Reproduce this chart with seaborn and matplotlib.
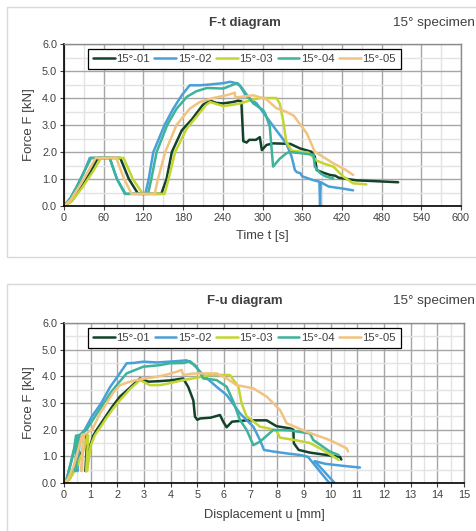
import matplotlib
matplotlib.use("Agg")
import matplotlib.pyplot as plt
from matplotlib.patches import Rectangle
from matplotlib.ticker import MultipleLocator
import seaborn as sns

sns.set_style("white")
plt.rcParams['font.family'] = ['Liberation Sans', 'DejaVu Sans']

labels = ["15°-01", "15°-02", "15°-03", "15°-04", "15°-05"]
colors = ["#12432A", "#4A9FD8", "#C3D530", "#3CB39B", "#F2C27F"]

# ---------------- F-t data ----------------
t01 = [0, 12, 25, 40, 51, 85, 98, 112, 147, 155, 163, 178, 193, 210, 221, 230, 240, 255, 263, 268, 271, 276, 280, 290, 296, 299, 306, 316, 342, 357, 374, 379, 382, 390, 402, 410, 415, 422, 442, 470, 505]
F01 = [0, 0.2, 0.65, 1.25, 1.78, 1.78, 1.0, 0.45, 0.45, 1.0, 2.0, 2.8, 3.2, 3.75, 3.9, 3.82, 3.8, 3.85, 3.9, 3.88, 2.4, 2.35, 2.45, 2.45, 2.55, 2.07, 2.26, 2.32, 2.3, 2.13, 2.01, 1.83, 1.33, 1.25, 1.15, 1.12, 1.05, 1.02, 0.95, 0.92, 0.88]

t02 = [0, 10, 20, 30, 39, 69, 80, 92, 123, 128, 135, 152, 165, 178, 190, 205, 220, 241, 251, 260, 266, 276, 291, 306, 321, 336, 344, 349, 352, 357, 360, 375, 386, 387, 388, 400, 420, 437]
F02 = [0, 0.3, 0.75, 1.25, 1.78, 1.78, 1.0, 0.45, 0.45, 1.0, 2.0, 3.0, 3.6, 4.1, 4.47, 4.47, 4.5, 4.55, 4.6, 4.55, 4.45, 4.05, 3.8, 3.3, 2.8, 2.32, 1.83, 1.33, 1.25, 1.22, 1.1, 0.97, 0.9, 0.0, 0.88, 0.72, 0.65, 0.58]

t03 = [0, 12, 28, 43, 56, 90, 104, 119, 152, 158, 168, 185, 200, 215, 221, 230, 241, 255, 266, 280, 296, 321, 326, 331, 336, 344, 369, 382, 395, 407, 422, 437, 457]
F03 = [0, 0.18, 0.7, 1.25, 1.78, 1.78, 1.0, 0.45, 0.45, 1.0, 2.0, 2.85, 3.3, 3.75, 3.85, 3.78, 3.7, 3.75, 3.8, 3.9, 4.0, 4.0, 3.8, 3.19, 2.38, 2.05, 1.98, 1.68, 1.55, 1.46, 1.09, 0.84, 0.8]

t04 = [0, 10, 20, 30, 41, 69, 80, 93, 127, 132, 140, 156, 170, 186, 200, 216, 241, 256, 262, 266, 286, 301, 304, 311, 316, 326, 336, 341, 360, 377, 379, 387, 395, 407]
F04 = [0, 0.3, 0.75, 1.25, 1.78, 1.78, 1.0, 0.45, 0.45, 1.0, 2.0, 3.0, 3.6, 4.05, 4.25, 4.37, 4.35, 4.5, 4.55, 4.46, 3.8, 3.55, 3.43, 2.94, 1.46, 1.75, 1.95, 2.0, 1.95, 1.9, 1.46, 1.22, 1.1, 1.02]

t05 = [0, 10, 25, 37, 48, 79, 90, 102, 137, 142, 153, 170, 190, 205, 226, 245, 256, 258, 259, 270, 286, 306, 321, 335, 347, 367, 379, 393, 407, 425, 437]
F05 = [0, 0.22, 0.8, 1.3, 1.78, 1.78, 1.05, 0.45, 0.45, 1.0, 2.0, 3.0, 3.6, 3.85, 4.0, 4.1, 4.18, 4.2, 4.02, 4.05, 4.1, 3.95, 3.62, 3.5, 3.35, 2.69, 2.01, 1.8, 1.58, 1.35, 1.15]

# ---------------- F-u data ----------------
u01 = [0, 0.2, 0.45, 0.7, 0.85, 0.88, 0.8, 0.84, 0.95, 1.1, 1.23, 1.5, 1.8, 2.1, 2.5, 2.85, 3.17, 3.6, 4.0, 4.47, 4.66, 4.85, 4.91, 5.0, 5.1, 5.5, 5.85, 5.97, 6.1, 6.3, 6.87, 7.6, 7.97, 8.47, 8.6, 8.62, 8.8, 9.22, 9.85, 10.35, 10.4]
G01 = [0, 0.15, 0.6, 1.25, 1.78, 1.78, 0.45, 0.45, 1.3, 1.78, 2.0, 2.4, 2.85, 3.24, 3.6, 3.92, 3.8, 3.82, 3.85, 3.92, 3.6, 3.1, 2.49, 2.37, 2.42, 2.45, 2.55, 2.3, 2.09, 2.3, 2.35, 2.35, 2.13, 2.05, 2.0, 1.49, 1.24, 1.14, 1.05, 0.98, 0.88]

u02 = [0, 0.1, 0.25, 0.4, 0.52, 0.55, 0.48, 0.51, 0.6, 0.78, 1.05, 1.4, 1.73, 2.05, 2.35, 2.6, 2.97, 3.5, 4.22, 4.6, 4.85, 5.22, 5.72, 6.1, 6.6, 7.1, 7.35, 7.5, 7.85, 8.35, 8.85, 9.15, 9.95, 10.15, 9.4, 9.8, 10.4, 11.1]
G02 = [0, 0.15, 0.7, 1.3, 1.78, 1.78, 0.45, 0.45, 1.78, 2.0, 2.5, 3.0, 3.6, 4.05, 4.49, 4.5, 4.55, 4.52, 4.57, 4.6, 4.45, 4.05, 3.61, 3.3, 2.61, 2.11, 1.61, 1.24, 1.18, 1.11, 1.05, 0.98, 0.0, 0.0, 0.82, 0.72, 0.65, 0.58]

u03 = [0, 0.2, 0.45, 0.72, 0.88, 0.91, 0.83, 0.87, 1.0, 1.15, 1.3, 1.6, 1.85, 2.1, 2.5, 2.85, 3.22, 3.6, 4.0, 4.47, 5.0, 5.47, 6.22, 6.54, 6.66, 6.85, 7.04, 7.35, 7.66, 7.97, 8.1, 8.6, 9.22, 9.6, 10.1, 10.3]
G03 = [0, 0.12, 0.55, 1.2, 1.78, 1.78, 0.45, 0.45, 1.4, 1.78, 2.0, 2.45, 2.8, 3.11, 3.55, 3.86, 3.67, 3.67, 3.75, 3.86, 3.95, 4.05, 4.05, 3.61, 2.99, 2.49, 2.36, 2.11, 2.05, 1.96, 1.7, 1.62, 1.5, 1.3, 1.0, 0.86]

u04 = [0, 0.1, 0.25, 0.38, 0.45, 0.48, 0.42, 0.45, 0.55, 0.85, 1.2, 1.5, 1.73, 2.0, 2.35, 2.97, 3.6, 3.97, 4.5, 4.72, 4.97, 5.22, 5.72, 6.1, 6.35, 6.6, 6.85, 7.1, 7.35, 7.85, 8.47, 9.22, 9.35, 9.97, 10.3]
G04 = [0, 0.15, 0.75, 1.3, 1.78, 1.78, 0.45, 0.45, 1.78, 2.0, 2.55, 3.0, 3.36, 3.7, 4.11, 4.36, 4.42, 4.49, 4.5, 4.57, 4.36, 3.92, 3.86, 3.61, 3.05, 2.36, 1.99, 1.42, 1.55, 1.99, 1.97, 1.86, 1.61, 1.18, 1.05]

u05 = [0, 0.15, 0.35, 0.55, 0.68, 0.72, 0.64, 0.67, 0.75, 1.05, 1.35, 1.6, 1.85, 2.1, 2.47, 2.9, 3.35, 3.8, 4.22, 4.41, 4.47, 4.8, 5.1, 5.72, 6.1, 6.47, 7.1, 7.6, 8.1, 8.35, 9.1, 9.97, 10.6, 10.65]
G05 = [0, 0.15, 0.6, 1.3, 1.82, 1.8, 0.45, 0.45, 1.8, 2.0, 2.6, 3.0, 3.4, 3.67, 3.8, 3.9, 3.96, 4.05, 4.17, 4.24, 4.05, 4.1, 4.11, 4.11, 3.92, 3.67, 3.55, 3.24, 2.74, 2.24, 1.92, 1.61, 1.3, 1.18]

ft_x = [t01, t02, t03, t04, t05]
ft_y = [F01, F02, F03, F04, F05]
fu_x = [u01, u02, u03, u04, u05]
fu_y = [G01, G02, G03, G04, G05]

W, H = 477, 531
fig = plt.figure(figsize=(W / 100, H / 100), dpi=100)

# panel borders
fig.add_artist(Rectangle((7 / W, 1 - 257 / H), 1.0, 250 / H, transform=fig.transFigure,
                         fill=False, edgecolor="#d9d9d9", lw=1.0))
fig.add_artist(Rectangle((7 / W, -0.05), 1.0, 1 - 284 / H + 0.05, transform=fig.transFigure,
                         fill=False, edgecolor="#d9d9d9", lw=1.0))

ax1 = fig.add_axes([64 / W, 1 - 206 / H, 397 / W, 162 / H])
ax2 = fig.add_axes([64 / W, 1 - 483 / H, 400 / W, 160 / H])


def style(ax, xmax, xmajor, xminor, xlabel):
    ax.set_xlim(0, xmax)
    ax.set_ylim(0, 6)
    ax.xaxis.set_major_locator(MultipleLocator(xmajor))
    ax.xaxis.set_minor_locator(MultipleLocator(xminor))
    ax.yaxis.set_major_locator(MultipleLocator(1.0))
    ax.yaxis.set_minor_locator(MultipleLocator(0.5))
    ax.yaxis.set_major_formatter(matplotlib.ticker.FormatStrFormatter('%.1f'))
    ax.grid(True, which='minor', color='#e3e3e3', lw=1.0, zorder=0)
    ax.grid(True, which='major', color='#a6a6a6', lw=1.0, zorder=0)
    ax.set_axisbelow(True)
    ax.tick_params(which='major', direction='out', length=3, width=0.8, labelsize=7.8,
                   colors='#404040', pad=2, left=True, bottom=True)
    ax.tick_params(which='minor', length=0)
    for s in ['left', 'bottom']:
        ax.spines[s].set_color('black')
        ax.spines[s].set_linewidth(1.2)
    for s in ['top', 'right']:
        ax.spines[s].set_color('#8c8c8c')
        ax.spines[s].set_linewidth(1.0)
    ax.set_xlabel(xlabel, fontsize=9.3, color='#404040')
    ax.set_ylabel("Force F [kN]", fontsize=9.5, color='#404040')
    ax.yaxis.set_label_coords(-0.072, 0.5)


for xs, ys, lab, col in zip(ft_x, ft_y, labels, colors):
    sns.lineplot(x=xs, y=ys, sort=False, estimator=None, color=col, lw=1.8,
                 label=lab, ax=ax1)
for xs, ys, lab, col in zip(fu_x, fu_y, labels, colors):
    sns.lineplot(x=xs, y=ys, sort=False, estimator=None, color=col, lw=1.8,
                 label=lab, ax=ax2)

style(ax1, 600, 60, 30, "Time t [s]")
style(ax2, 15, 1, 0.5, "Displacement u [mm]")
ax1.xaxis.set_label_coords(0.5, -0.15)
ax2.xaxis.set_label_coords(0.5, -0.16)

for ax in (ax1, ax2):
    leg = ax.legend(loc='upper left', bbox_to_anchor=(0.06, 0.97), ncol=5, frameon=True,
                    fancybox=False, edgecolor='black', framealpha=1, fontsize=8.2,
                    handlelength=1.9, handletextpad=0.15, columnspacing=0.4,
                    borderpad=0.45, borderaxespad=0)
    leg.get_frame().set_linewidth(0.9)
    for txt in leg.get_texts():
        txt.set_color('#404040')

fig.text(245 / W, 1 - 23 / H, "F-t diagram", ha='center', va='center', fontsize=9.5,
         fontweight='bold', color='#404040')
fig.text(475 / W, 1 - 23 / H, "15° specimen", ha='right', va='center', fontsize=9.7,
         color='#404040')
fig.text(245 / W, 1 - 301 / H, "F-u diagram", ha='center', va='center', fontsize=9.5,
         fontweight='bold', color='#404040')
fig.text(475 / W, 1 - 301 / H, "15° specimen", ha='right', va='center', fontsize=9.7,
         color='#404040')

fig.savefig("out.png", dpi=100)
